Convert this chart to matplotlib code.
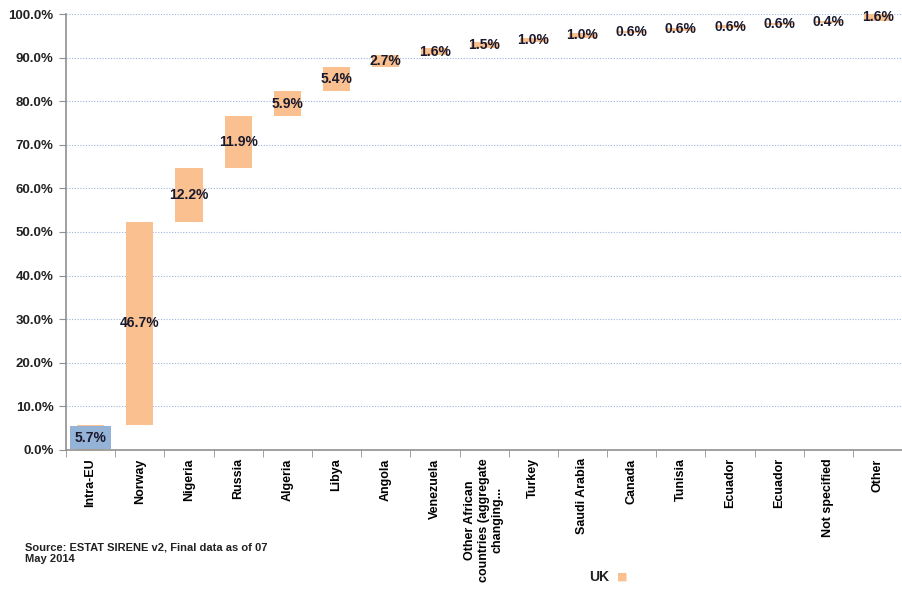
import numpy as np
import matplotlib.pyplot as plt
from matplotlib.ticker import FuncFormatter, MultipleLocator

plt.rcParams["font.family"] = ["Liberation Sans", "DejaVu Sans"]

# 数据
countries = ["Intra-EU", "Norway", "Nigeria", "Russia", "Algeria", "Libya", "Angola",
             "Venezuela", "Other African\ncountries (aggregate\nchanging...", "Turkey",
             "Saudi Arabia", "Canada", "Tunisia", "Ecuador", "Ecuador", "Not specified", "Other"]
shares = [5.7, 46.7, 12.2, 11.9, 5.9, 5.4, 2.7, 1.6, 1.5, 1.0, 1.0, 0.6, 0.6, 0.6, 0.6, 0.4, 1.6]

bar_color = "#FAC090"
text_color = "#1a1a2e"

fig = plt.figure(figsize=(9.03, 5.91), dpi=100)
ax = fig.add_axes([0.0731, 0.2386, 0.926, 0.7377])

x = np.arange(len(shares))
bottoms = np.concatenate([[0], np.cumsum(shares)[:-1]])
ax.bar(x, shares, bottom=bottoms, width=0.55, color=bar_color, zorder=2)

# 数据标签
for i, (b, v) in enumerate(zip(bottoms, shares)):
    kw = {}
    if i == 0:
        kw["bbox"] = dict(boxstyle="square,pad=0.3", facecolor="#95B3D7", edgecolor="none")
    ax.text(i, b + v / 2, f"{v:.1f}%", ha="center", va="center", fontsize=10,
            fontweight="bold", color=text_color, zorder=3, **kw)

ax.set_xlim(-0.5, len(shares) - 0.5)
ax.set_ylim(0, 100)
ax.yaxis.set_major_locator(MultipleLocator(10))
ax.yaxis.set_major_formatter(FuncFormatter(lambda v, p: f"{v:.1f}%"))
ax.grid(axis="y", color="#9fb4dc", linestyle=(0, (1, 1.5)), linewidth=0.8, zorder=0)

ax.set_xticks(x)
ax.set_xticklabels(countries, rotation=90, fontsize=9, fontweight="bold", color="black",
                   ha="center", va="top", multialignment="center")
ax.tick_params(axis="x", which="major", length=0, pad=6)
ax.set_xticks(np.arange(-0.5, len(shares), 1), minor=True)
ax.tick_params(axis="x", which="minor", length=5, color="#909090", direction="out")
ax.tick_params(axis="y", length=5, color="#909090", labelsize=9.5, pad=4)
for lab in ax.get_yticklabels():
    lab.set_fontweight("bold")
    lab.set_color("#222222")

for s in ["top", "right"]:
    ax.spines[s].set_visible(False)
for s in ["left", "bottom"]:
    ax.spines[s].set_color("#909090")
    ax.spines[s].set_linewidth(1.2)

fig.text(0.028, 0.064, "Source: ESTAT SIRENE v2, Final data as of 07\nMay 2014",
         fontsize=8, fontweight="bold", color="#222222", ha="left", va="center",
         linespacing=1.2)

fig.text(0.663, 0.024, "UK", fontsize=10, fontweight="bold", color="#222222",
         ha="center", va="center")
fig.text(0.689, 0.024, "■", fontsize=8, color=bar_color, ha="center", va="center",
         family="DejaVu Sans")

fig.savefig("out.png", dpi=100)
